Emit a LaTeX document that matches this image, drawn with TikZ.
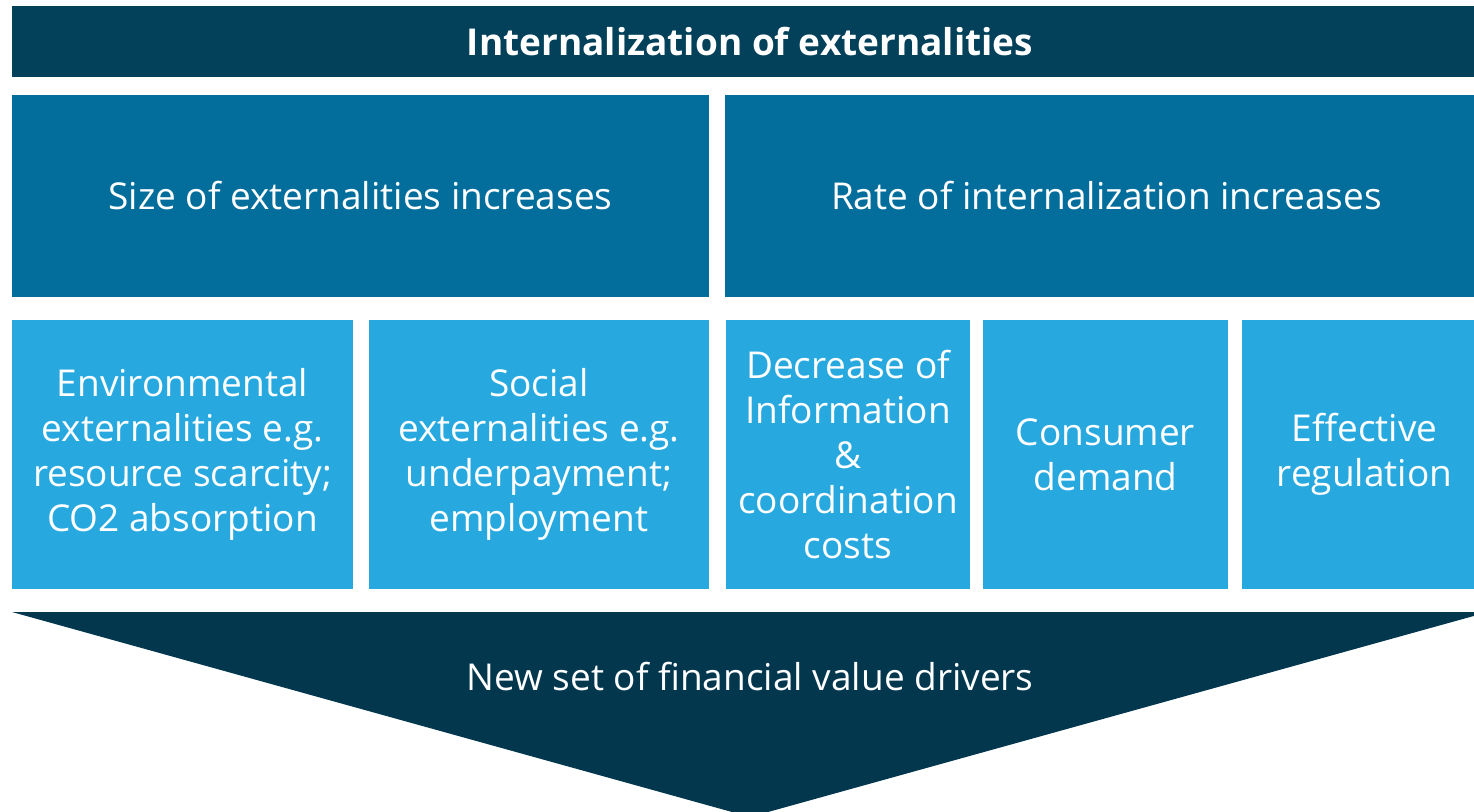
\documentclass[tikz,border=0pt]{standalone}
\usepackage{fontspec}
\setmainfont{Open Sans}
\definecolor{topc}{HTML}{024159}
\definecolor{midc}{HTML}{036E9C}
\definecolor{lowc}{HTML}{27A9E0}
\definecolor{arrc}{HTML}{02374D}
\begin{document}
\begin{tikzpicture}[x=1pt,y=-1pt,
  box/.style={inner sep=0pt, outer sep=0pt, anchor=north west, text=white, align=center,
    font=\fontsize{37}{45}\selectfont},
]
\useasboundingbox (0,0) rectangle (1474,811);
\begin{scope}
\clip (0,0) rectangle (1474,811);
% title
\node[box, fill=topc, minimum width=1476pt, minimum height=71pt, font=\fontsize{37}{44}\selectfont\bfseries] (title) at (12,6) {Internalization of externalities};
% second row
\node[box, fill=midc, minimum width=697pt, minimum height=202pt] (size) at (12,95) {Size of externalities increases};
\node[box, fill=midc, minimum width=763pt, minimum height=202pt] (rate) at (725,95) {Rate of internalization increases};
% third row
\node[box, fill=lowc, minimum width=341pt, minimum height=269pt] (env) at (12,320) {Environmental\\externalities e.g.\\resource scarcity;\\CO2 absorption};
\node[box, fill=lowc, minimum width=340pt, minimum height=269pt] (soc) at (369,320) {Social\\externalities e.g.\\underpayment;\\employment};
\node[box, fill=lowc, minimum width=244pt, minimum height=269pt] (dec) at (726,320) {Decrease of\\Information\\\&\\coordination\\costs};
\node[box, fill=lowc, minimum width=245pt, minimum height=269pt] (con) at (983,320) {Consumer\\demand};
\node[box, fill=lowc, minimum width=245pt, minimum height=269pt] (reg) at (1242,320) {Effective\\regulation};
% chevron
\fill[arrc] (12,612) -- (1488,612) -- (750,817) -- cycle;
\end{scope}
\node[text=white, inner sep=0pt, font=\fontsize{37}{45}\selectfont] (drv) at (750,677) {New set of financial value drivers};
\end{tikzpicture}
\end{document}
